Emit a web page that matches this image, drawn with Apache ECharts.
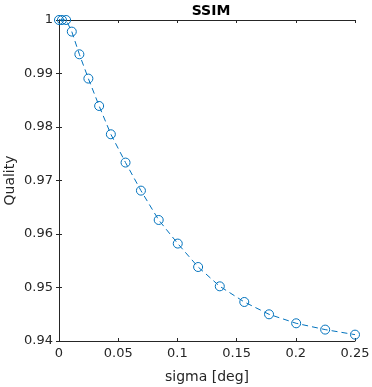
<!DOCTYPE html>
<html><head><meta charset="utf-8">
<script src="https://cdn.jsdelivr.net/npm/echarts@6/dist/echarts.min.js"></script>
<style>html,body{margin:0;padding:0;background:#fff}#c{width:372px;height:387px}</style>
</head><body><div id="c"></div>
<script>
const sigma = [0, 0.0025, 0.006, 0.0108, 0.0172, 0.0248, 0.0339, 0.0438, 0.0562, 0.0692, 0.0842, 0.1003, 0.1175, 0.1358, 0.1565, 0.1774, 0.2003, 0.2248, 0.25];
const quality = [1.0, 1.0, 1.0, 0.99783, 0.99359, 0.98905, 0.98393, 0.97864, 0.97335, 0.96811, 0.96262, 0.95821, 0.95383, 0.95022, 0.94729, 0.94499, 0.94331, 0.94213, 0.94119];
const xTicks = ['0', '0.05', '0.1', '0.15', '0.2', '0.25'];
const yTicks = ['0.94', '0.95', '0.96', '0.97', '0.98', '0.99', '1'];

const txt = '#262626';
const font = 'DejaVu Sans';
const chart = echarts.init(document.getElementById('c'), null, {renderer: 'canvas'});
const axisLine = {show: true, lineStyle: {color: txt, width: 1}};
const tickIn = {show: true, inside: true, length: 3, lineStyle: {color: txt}};
chart.setOption({
  animation: false,
  title: {text: 'SSIM', left: 206, top: -1, textAlign: 'center',
    textStyle: {fontFamily: font, fontSize: 14, fontWeight: 'bold', color: '#000'}},
  grid: {left: 59, top: 20, right: 17, bottom: 46, containLabel: false, outerBoundsMode: 'none'},
  xAxis: [{
    type: 'value', min: 0, max: 0.25, interval: 0.05, position: 'bottom',
    name: 'sigma [deg]', nameLocation: 'middle', nameGap: 29, nameMoveOverlap: false,
    nameTextStyle: {fontFamily: font, fontSize: 14, color: txt},
    axisLine: axisLine, axisTick: tickIn, splitLine: {show: false},
    axisLabel: {fontFamily: font, fontSize: 13, color: txt, margin: 6,
      formatter: v => xTicks[Math.round(v / 0.05)]}
  }, {
    type: 'value', min: 0, max: 0.25, interval: 0.05, position: 'top',
    axisLine: axisLine, axisTick: tickIn, axisLabel: {show: false}, splitLine: {show: false}
  }],
  yAxis: [{
    type: 'value', min: 0.94, max: 1, interval: 0.01, position: 'left',
    name: 'Quality', nameLocation: 'middle', nameGap: 42, nameMoveOverlap: false,
    nameTextStyle: {fontFamily: font, fontSize: 14, color: txt},
    axisLine: axisLine, axisTick: tickIn, splitLine: {show: false},
    axisLabel: {fontFamily: font, fontSize: 13, color: txt, margin: 6,
      formatter: v => yTicks[Math.round((v - 0.94) / 0.01)]}
  }, {
    type: 'value', min: 0.94, max: 1, interval: 0.01, position: 'right',
    axisLine: axisLine, axisTick: tickIn, axisLabel: {show: false}, splitLine: {show: false}
  }],
  series: [{
    type: 'line',
    data: sigma.map((s, i) => [s, quality[i]]),
    symbol: 'circle', symbolSize: 9,
    lineStyle: {color: '#0072BD', width: 1, type: [6, 4]},
    itemStyle: {color: 'rgba(0,0,0,0)', borderColor: '#0072BD', borderWidth: 1},
    clip: false
  }]
});
</script></body></html>
